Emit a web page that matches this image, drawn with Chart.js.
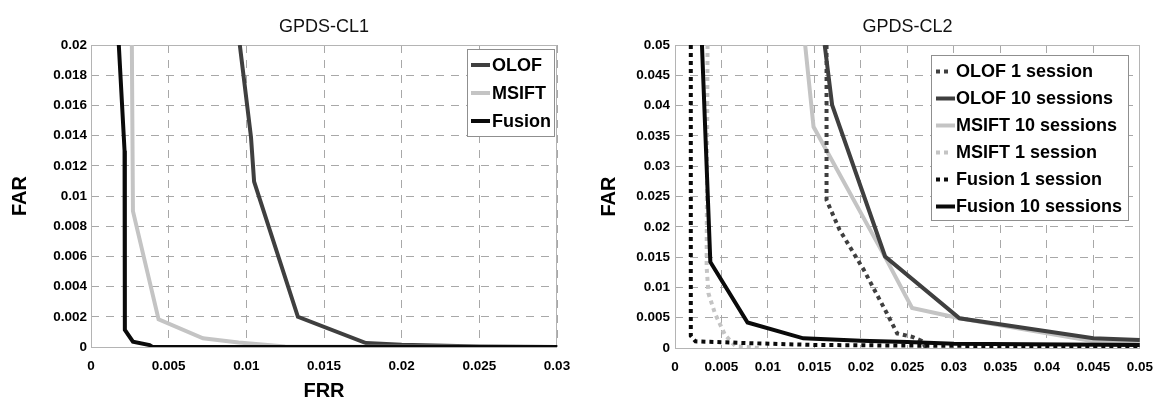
<!DOCTYPE html>
<html>
<head>
<meta charset="utf-8">
<script src="https://cdn.jsdelivr.net/npm/chart.js@4.4.1/dist/chart.umd.min.js"></script>
<style>
  html, body { margin: 0; padding: 0; background: #fff; }
  #wrap { position: relative; width: 1153px; height: 406px; }
  #cl1 { position: absolute; left: 0; top: 0; }
  #cl2 { position: absolute; left: 576px; top: 0; }
</style>
</head>
<body>
<div id="wrap">
  <canvas id="cl1" width="576" height="406"></canvas>
  <canvas id="cl2" width="577" height="406"></canvas>
</div>
<script>
// ---- GPDS-CL1 data (x = FRR, y = FAR)
const cl1Title = 'GPDS-CL1';
const cl1XTicks = ['0', '0.005', '0.01', '0.015', '0.02', '0.025', '0.03'];
const cl1YTicks = ['0', '0.002', '0.004', '0.006', '0.008', '0.01', '0.012', '0.014', '0.016', '0.018', '0.02'];

const cl1OlofFrr = [0.00958, 0.0103, 0.0105, 0.01332, 0.0177, 0.02, 0.025, 0.03];
const cl1OlofFar = [0.02, 0.0139, 0.01095, 0.002, 0.00026, 0.00015, 0.00004, 0];

const cl1MsiftFrr = [0.00263, 0.0027, 0.00435, 0.00721, 0.0095, 0.0125, 0.03];
const cl1MsiftFar = [0.02, 0.009, 0.00183, 0.00058, 0.0003, 0.00004, 0];

const cl1FusionFrr = [0.00179, 0.00216, 0.00218, 0.0027, 0.00377, 0.00395, 0.03];
const cl1FusionFar = [0.02, 0.013, 0.00113, 0.00035, 0.00013, 0, 0];

// ---- GPDS-CL2 data
const cl2Title = 'GPDS-CL2';
const cl2XTicks = ['0', '0.005', '0.01', '0.015', '0.02', '0.025', '0.03', '0.035', '0.04', '0.045', '0.05'];
const cl2YTicks = ['0', '0.005', '0.01', '0.015', '0.02', '0.025', '0.03', '0.035', '0.04', '0.045', '0.05'];

const cl2Olof1Frr = [0.0163, 0.0163, 0.0177, 0.0203, 0.0228, 0.0239, 0.0256, 0.0265, 0.027];
const cl2Olof1Far = [0.05, 0.0244, 0.0195, 0.0129, 0.0057, 0.0024, 0.0018, 0.0012, 0];

const cl2Olof10Frr = [0.0161, 0.0169, 0.0226, 0.0306, 0.045, 0.05];
const cl2Olof10Far = [0.05, 0.0401, 0.0151, 0.0049, 0.0016, 0.0013];

const cl2Msift10Frr = [0.014, 0.0149, 0.0226, 0.0255, 0.0306, 0.045, 0.05];
const cl2Msift10Far = [0.05, 0.0365, 0.015, 0.0066, 0.0049, 0.0011, 0.0008];

const cl2Msift1Frr = [0.0035, 0.0034, 0.0036, 0.0043, 0.0054, 0.0065, 0.009];
const cl2Msift1Far = [0.05, 0.0134, 0.009, 0.0057, 0.0021, 0.0003, 0];

const cl2Fusion1Frr = [0.0017, 0.0017, 0.0022, 0.008, 0.015, 0.025, 0.05];
const cl2Fusion1Far = [0.05, 0.002, 0.0011, 0.0008, 0.0005, 0.0004, 0.0002];

const cl2Fusion10Frr = [0.0029, 0.0038, 0.0078, 0.0138, 0.02, 0.025, 0.03, 0.05];
const cl2Fusion10Far = [0.05, 0.0142, 0.0042, 0.0016, 0.0012, 0.001, 0.0007, 0.0005];

// ---- styling
const FONT = '"Liberation Sans", Arial, sans-serif';
const DARK = '#3f3f3f';
const LIGHT = '#c4c4c4';
const BLACK = '#0a0a0a';
const DOTS = [4, 4];

function pts(xs, ys) {
    return xs.map((x, i) => ({ x: x, y: ys[i] }));
}

function series(label, xs, ys, color, dashed, order) {
    return {
        label: label,
        data: pts(xs, ys),
        showLine: true,
        borderColor: color,
        backgroundColor: color,
        borderWidth: 4,
        borderDash: dashed ? DOTS : [],
        borderCapStyle: 'butt',
        borderJoinStyle: 'miter',
        pointRadius: 0,
        tension: 0,
        fill: false,
        order: order
    };
}

// frame around the plot area
const frame = {
    id: 'frame',
    beforeDatasetsDraw(chart) {
        const a = chart.chartArea;
        const ctx = chart.ctx;
        ctx.save();
        ctx.strokeStyle = '#b4b4b4';
        ctx.lineWidth = 1;
        ctx.strokeRect(Math.round(a.left) + 0.5, Math.round(a.top) + 0.5,
            Math.round(a.right - a.left) - 1, Math.round(a.bottom - a.top));
        ctx.restore();
    }
};

// legend drawn inside the plot, in a box
const boxLegend = {
    id: 'boxLegend',
    afterDatasetsDraw(chart, args, o) {
        const ctx = chart.ctx;
        ctx.save();
        ctx.fillStyle = '#fff';
        ctx.fillRect(o.left, o.top, o.width, o.height);
        ctx.strokeStyle = '#8f8f8f';
        ctx.lineWidth = 1;
        ctx.strokeRect(o.left + 0.5, o.top + 0.5, o.width, o.height);
        ctx.font = 'bold 18px ' + FONT;
        ctx.textBaseline = 'middle';
        chart.data.datasets.forEach((ds, i) => {
            const y = o.firstRow + i * o.rowStep;
            const dashed = ds.borderDash.length > 0;
            ctx.beginPath();
            ctx.strokeStyle = ds.borderColor;
            ctx.lineWidth = ds.borderWidth;
            ctx.lineCap = 'butt';
            ctx.setLineDash(ds.borderDash);
            ctx.moveTo(o.sampleX, y);
            ctx.lineTo(o.sampleX + (dashed ? 12 : o.sampleLen), y);
            ctx.stroke();
            ctx.setLineDash([]);
            ctx.fillStyle = '#000';
            ctx.fillText(ds.label, o.textX, y + 1);
        });
        ctx.restore();
    }
};

// label gap is done with invisible tick marks, so it does not widen the side padding
function axis(labels, opts) {
    return {
        type: 'linear',
        min: parseFloat(labels[0]),
        max: parseFloat(labels[labels.length - 1]),
        afterBuildTicks: s => { s.ticks = labels.map(t => ({ value: parseFloat(t) })); },
        afterFit: s => {
            if (opts.width) s.width = opts.width;
            if (opts.height) s.height = opts.height;
        },
        grid: { color: '#a8a8a8', lineWidth: 1, drawTicks: true, tickLength: opts.pad, tickColor: 'rgba(0,0,0,0)' },
        border: { display: false, dash: [8, 7] },
        ticks: {
            padding: 0,
            color: '#000',
            maxRotation: 0,
            autoSkip: false,
            font: { family: FONT, size: 13.5, weight: 'bold' },
            callback: (v, i) => labels[i]
        },
        title: {
            display: !!opts.title,
            text: opts.title,
            color: '#000',
            font: { family: FONT, size: 20, weight: 'bold' },
            padding: opts.titlePad
        }
    };
}

Chart.defaults.animation = false;

new Chart(document.getElementById('cl1'), {
    type: 'scatter',
    data: {
        datasets: [
            series('OLOF', cl1OlofFrr, cl1OlofFar, DARK, false, 2),
            series('MSIFT', cl1MsiftFrr, cl1MsiftFar, LIGHT, false, 1),
            series('Fusion', cl1FusionFrr, cl1FusionFar, BLACK, false, 0)
        ]
    },
    options: {
        responsive: false,
        layout: { padding: { left: 0, right: 19, top: 0, bottom: 0 } },
        scales: {
            x: axis(cl1XTicks, { height: 59, pad: 11, title: 'FRR', titlePad: { top: 0, bottom: 3 } }),
            y: axis(cl1YTicks, { width: 91, pad: 4, title: 'FAR', titlePad: { top: 8, bottom: 0 } })
        },
        plugins: {
            legend: { display: false },
            tooltip: { enabled: false },
            title: {
                display: true, text: cl1Title, fullSize: false, color: '#111',
                font: { family: FONT, size: 18, weight: 'normal' },
                padding: { top: 16, bottom: 7.4 }
            },
            boxLegend: { left: 467, top: 49, width: 87, height: 87, firstRow: 65, rowStep: 28,
                sampleX: 471, sampleLen: 19, textX: 492 }
        }
    },
    plugins: [frame, boxLegend]
});

new Chart(document.getElementById('cl2'), {
    type: 'scatter',
    data: {
        datasets: [
            series('OLOF 1 session', cl2Olof1Frr, cl2Olof1Far, DARK, true, 3),
            series('OLOF 10 sessions', cl2Olof10Frr, cl2Olof10Far, DARK, false, 2),
            series('MSIFT 10 sessions', cl2Msift10Frr, cl2Msift10Far, LIGHT, false, 4),
            series('MSIFT 1 session', cl2Msift1Frr, cl2Msift1Far, LIGHT, true, 5),
            series('Fusion 1 session', cl2Fusion1Frr, cl2Fusion1Far, BLACK, true, 1),
            series('Fusion 10 sessions', cl2Fusion10Frr, cl2Fusion10Far, BLACK, false, 0)
        ]
    },
    options: {
        responsive: false,
        layout: { padding: { left: 0, right: 13, top: 0, bottom: 0 } },
        scales: {
            x: axis(cl2XTicks, { height: 58, pad: 11 }),
            y: axis(cl2YTicks, { width: 99, pad: 5, title: 'FAR', titlePad: { top: 21, bottom: 0 } })
        },
        plugins: {
            legend: { display: false },
            tooltip: { enabled: false },
            title: {
                display: true, text: cl2Title, fullSize: false, color: '#111',
                font: { family: FONT, size: 18, weight: 'normal' },
                padding: { top: 16, bottom: 7.4 }
            },
            boxLegend: { left: 355, top: 55, width: 197, height: 165, firstRow: 71.5, rowStep: 27,
                sampleX: 360, sampleLen: 19, textX: 380 }
        }
    },
    plugins: [frame, boxLegend]
});
</script>
</body>
</html>
